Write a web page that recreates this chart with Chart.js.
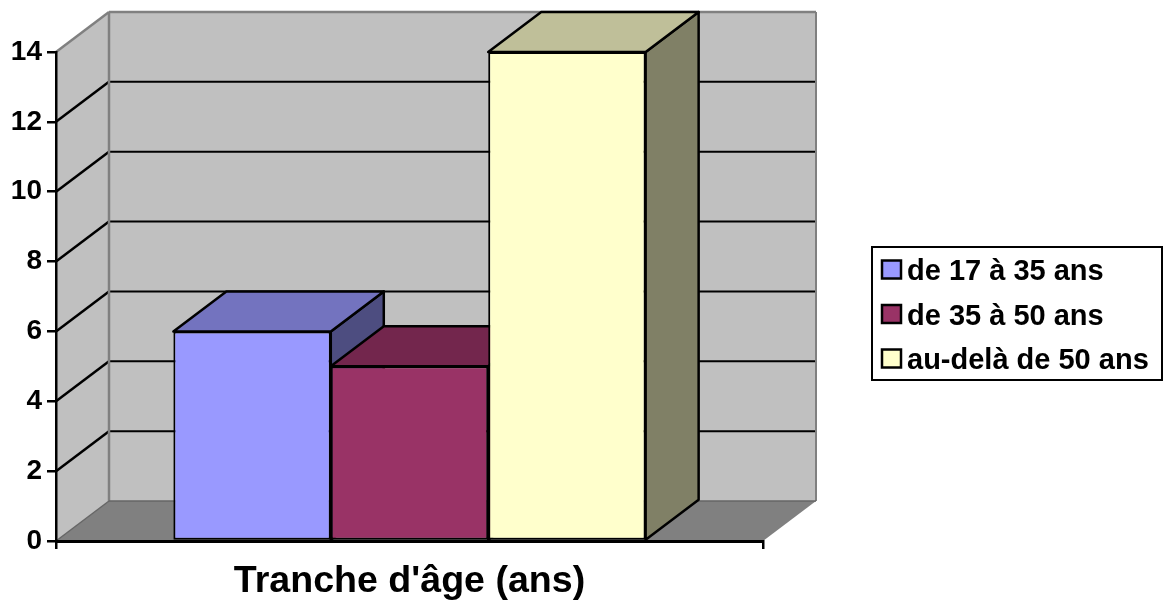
<!DOCTYPE html>
<html>
<head>
<meta charset="utf-8">
<title>Tranche d'âge</title>
<script src="https://cdn.jsdelivr.net/npm/chart.js@4/dist/chart.umd.min.js"></script>
<style>
    html, body { margin: 0; padding: 0; background: #fff; }
    canvas { display: block; }
</style>
</head>
<body>
<canvas id="ageChart" width="1165" height="604"></canvas>
<script>
const categories = ["Tranche d'âge (ans)"];
const seriesNames = ['de 17 à 35 ans', 'de 35 à 50 ans', 'au-delà de 50 ans'];
const seriesValues = [[6], [5], [14]];
const frontColors = ['#9999FF', '#993366', '#FFFFCC'];
const topColors = ['#7373BF', '#73264D', '#BFBF99'];
const sideColors = ['#4D4D80', '#4D1A33', '#808066'];
const yMax = 14;
const yStep = 2;

const FONT = 'bold 29px "Liberation Sans", Arial, sans-serif';
const depthX = 53;
const depthY = 40;

function polygon(ctx, points, fill, stroke, width) {
    ctx.beginPath();
    points.forEach(function(p, i) {
        if (i === 0) ctx.moveTo(p[0], p[1]);
        else ctx.lineTo(p[0], p[1]);
    });
    ctx.closePath();
    if (fill) {
        ctx.fillStyle = fill;
        ctx.fill();
    }
    if (stroke) {
        ctx.strokeStyle = stroke;
        ctx.lineWidth = width;
        ctx.stroke();
    }
}

function line(ctx, x1, y1, x2, y2, color, width) {
    ctx.beginPath();
    ctx.moveTo(x1, y1);
    ctx.lineTo(x2, y2);
    ctx.strokeStyle = color;
    ctx.lineWidth = width;
    ctx.stroke();
}

// Back wall, side wall, floor and their gridlines
const wallsPlugin = {
    id: 'walls',
    beforeDraw: function(chart) {
        const ctx = chart.ctx;
        const area = chart.chartArea;
        const y = chart.scales.y;
        const backLeft = area.left + depthX;
        const backRight = area.right + depthX;
        const y0 = y.getPixelForValue(0);
        const yTop = y.getPixelForValue(yMax);

        ctx.save();
        ctx.fillStyle = '#C0C0C0';
        ctx.fillRect(backLeft, yTop - depthY, backRight - backLeft, y0 - yTop);
        polygon(ctx, [[area.left, yTop], [backLeft, yTop - depthY], [backLeft, y0 - depthY], [area.left, y0]], '#C0C0C0');
        polygon(ctx, [[area.left, y0], [backLeft, y0 - depthY], [backRight, y0 - depthY], [area.right, y0]], '#808080');

        y.ticks.forEach(function(t) {
            if (t.value === 0 || t.value === yMax) return;
            const py = y.getPixelForValue(t.value);
            line(ctx, area.left, py, backLeft, py - depthY, '#000', 2.5);
            line(ctx, backLeft, py - depthY, backRight, py - depthY, '#000', 2);
        });

        // wall edges
        line(ctx, area.left, yTop, backLeft, yTop - depthY, '#808080', 2.5);
        line(ctx, backLeft, yTop - depthY, backRight, yTop - depthY, '#808080', 2.5);
        line(ctx, backLeft, yTop - depthY, backLeft, y0 - depthY, '#808080', 2.5);
        line(ctx, backRight, yTop - depthY, backRight, y0 - depthY, '#808080', 2);
        line(ctx, backLeft, y0 - depthY, backRight, y0 - depthY, '#666', 1.5);
        line(ctx, area.left, y0, backLeft, y0 - depthY, '#666', 1.5);
        ctx.restore();
    },
    // Top and side faces of the bars, left to right so the nearer bar overlaps
    beforeDatasetsDraw: function(chart) {
        const ctx = chart.ctx;
        ctx.save();
        ctx.lineJoin = 'round';
        seriesValues.forEach(function(values, i) {
            const bar = chart.getDatasetMeta(i).data[0];
            const left = bar.x - bar.width / 2;
            const right = bar.x + bar.width / 2;
            polygon(ctx, [[right, bar.y], [right + depthX, bar.y - depthY], [right + depthX, bar.base - depthY], [right, bar.base]], sideColors[i], '#000', 2.5);
            polygon(ctx, [[left, bar.y], [left + depthX, bar.y - depthY], [right + depthX, bar.y - depthY], [right, bar.y]], topColors[i], '#000', 2.5);
        });
        ctx.restore();
    },
    // Framed legend to the right of the plot
    afterDraw: function(chart) {
        const ctx = chart.ctx;
        const rows = [269.5, 314, 358.5];
        ctx.save();
        ctx.strokeStyle = '#000';
        ctx.lineWidth = 2;
        ctx.strokeRect(872, 247, 290, 133);
        ctx.font = FONT;
        ctx.textBaseline = 'alphabetic';
        ctx.textAlign = 'left';
        seriesNames.forEach(function(name, i) {
            ctx.fillStyle = frontColors[i];
            ctx.fillRect(882, rows[i] - 9, 19, 18);
            ctx.lineWidth = 2.5;
            ctx.strokeRect(882, rows[i] - 9, 19, 18);
            ctx.fillStyle = '#000';
            ctx.fillText(name, 907, rows[i] + 10.5);
        });
        ctx.restore();
    }
};

const ageChart = new Chart(document.getElementById('ageChart').getContext('2d'), {
    type: 'bar',
    data: {
        labels: categories,
        datasets: seriesNames.map(function(name, i) {
            return {
                label: name,
                data: seriesValues[i],
                backgroundColor: frontColors[i],
                borderColor: '#000',
                borderWidth: 2,
                borderSkipped: false,
                categoryPercentage: 0.668,
                barPercentage: 1
            };
        })
    },
    options: {
        responsive: false,
        animation: false,
        layout: { padding: { top: 52, right: 402, left: 0, bottom: 0 } },
        plugins: {
            legend: { display: false },
            tooltip: { enabled: false }
        },
        scales: {
            x: {
                grid: { drawOnChartArea: false, color: '#000', lineWidth: 2.5, tickLength: 8 },
                border: { color: '#000', width: 3 },
                ticks: { display: false },
                title: {
                    display: true,
                    text: categories[0],
                    color: '#000',
                    font: { family: '"Liberation Sans", Arial, sans-serif', size: 37.6, weight: 'bold' },
                    padding: { top: 0, bottom: 0 }
                },
                afterFit: function(scale) { scale.height = 63; }
            },
            y: {
                min: 0,
                max: yMax,
                grid: { drawOnChartArea: false, color: '#000', lineWidth: 2.5, tickLength: 9 },
                border: { color: '#000', width: 2.5 },
                ticks: {
                    stepSize: yStep,
                    color: '#000',
                    padding: 5,
                    font: { family: '"Liberation Sans", Arial, sans-serif', size: 28, weight: 'bold' }
                },
                afterFit: function(scale) { scale.width = 56; }
            }
        }
    },
    plugins: [wallsPlugin]
});
</script>
</body>
</html>
